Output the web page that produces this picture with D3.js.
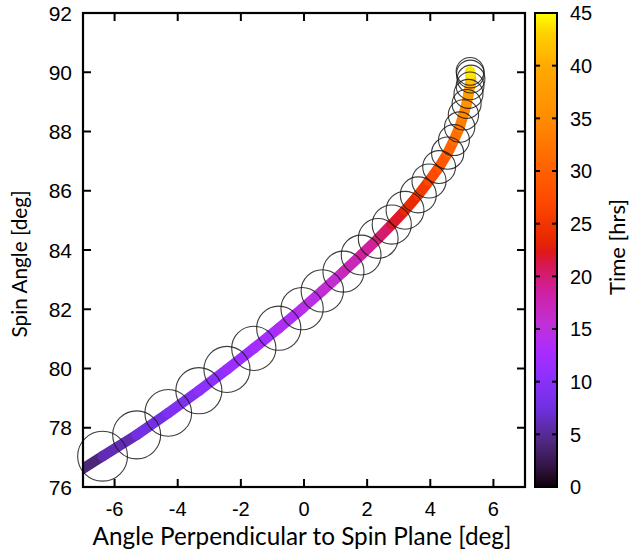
<!DOCTYPE html>
<html>
<head>
<meta charset="utf-8">
<script src="https://cdn.jsdelivr.net/npm/d3@7"></script>
<style>
  html, body { margin: 0; padding: 0; background: #fff; }
  svg { display: block; }
</style>
</head>
<body>
<svg id="chart" width="630" height="557"></svg>
<script>
// ---------------- data ----------------
const xTicks = [-6, -4, -2, 0, 2, 4, 6];
const yTicks = [76, 78, 80, 82, 84, 86, 88, 90, 92];
const cbTicks = [0, 5, 10, 15, 20, 25, 30, 35, 40, 45];

// coloured track (angle perpendicular, spin angle, time in hrs)
const trackX = [-7.00, -6.38, -5.30, -4.30, -3.33, -2.44, -1.59, -0.80, -0.06, 0.58, 1.25, 1.81, 2.35, 2.78, 3.20, 3.62, 3.96, 4.28, 4.55, 4.75, 4.93, 5.05, 5.15, 5.21, 5.26, 5.29, 5.27, 5.26];
const trackY = [76.62, 77.04, 77.76, 78.50, 79.25, 79.97, 80.68, 81.36, 82.02, 82.62, 83.27, 83.83, 84.39, 84.86, 85.34, 85.86, 86.33, 86.80, 87.27, 87.71, 88.15, 88.56, 88.93, 89.27, 89.54, 89.77, 89.94, 90.03];
const trackT = [3.0, 5.0, 7.0, 8.5, 9.8, 11.0, 12.0, 13.0, 14.0, 15.0, 16.5, 18.0, 19.5, 21.0, 23.0, 24.5, 26.0, 28.0, 29.5, 31.0, 32.5, 34.0, 35.5, 37.0, 39.0, 41.0, 43.0, 45.0];

// uncertainty circles (centre + radius in deg)
const circleX = [-6.38, -5.30, -4.30, -3.33, -2.44, -1.59, -0.80, -0.06, 0.58, 1.25, 1.81, 2.35, 2.78, 3.20, 3.62, 3.96, 4.28, 4.55, 4.75, 4.93, 5.05, 5.15, 5.21, 5.26, 5.29, 5.27, 5.26];
const circleY = [77.04, 77.76, 78.50, 79.25, 79.97, 80.68, 81.36, 82.02, 82.62, 83.27, 83.83, 84.39, 84.86, 85.34, 85.86, 86.33, 86.80, 87.27, 87.71, 88.15, 88.56, 88.93, 89.27, 89.54, 89.77, 89.94, 90.03];
const circleR = [0.79, 0.76, 0.74, 0.73, 0.73, 0.70, 0.70, 0.67, 0.67, 0.65, 0.63, 0.63, 0.62, 0.60, 0.57, 0.54, 0.52, 0.51, 0.49, 0.48, 0.48, 0.46, 0.46, 0.44, 0.44, 0.44, 0.44];

// colour palette (time -> colour)
const paletteT = [0, 1.8, 4.3, 7.5, 10.6, 12.8, 15.4, 18.6, 21.3, 22.3, 23.5, 27, 30, 35, 40, 43, 45];
const paletteC = ["#100008", "#301440", "#502880", "#7030e0", "#9030ff", "#a82cff", "#c030d8", "#d020a0", "#d8184a", "#e01818", "#e82800", "#ff4800", "#ff6000", "#ff8c00", "#ffaa00", "#ffd000", "#ffff00"];

// ---------------- layout ----------------
const svg = d3.select("#chart");
const L = 83, T = 13, W = 442, H = 474;
const x = d3.scaleLinear().domain([-7, 7]).range([L, L + W]);
const y = d3.scaleLinear().domain([76, 92]).range([T + H, T]);
const color = d3.scaleLinear().domain(paletteT).range(paletteC).interpolate(d3.interpolateRgb).clamp(true);

const tickFont = "'Liberation Sans', Arial, Helvetica, sans-serif";
const titleFont = "Lato, 'Open Sans', sans-serif";

svg.append("defs").append("clipPath").attr("id", "plotClip")
  .append("rect").attr("x", L).attr("y", T).attr("width", W).attr("height", H);

// ---------------- track ----------------
const trackG = svg.append("g").attr("clip-path", "url(#plotClip)");
const segs = d3.range(trackX.length - 1).map(i => ({
  x1: trackX[i], y1: trackY[i], x2: trackX[i + 1], y2: trackY[i + 1], t: (trackT[i] + trackT[i + 1]) / 2
}));
trackG.selectAll("line.seg").data(segs).join("line")
  .attr("class", "seg")
  .attr("x1", d => x(d.x1)).attr("y1", d => y(d.y1))
  .attr("x2", d => x(d.x2)).attr("y2", d => y(d.y2))
  .attr("stroke", d => color(d.t))
  .attr("stroke-width", 10.5)
  .attr("stroke-linecap", "round");

// ---------------- circles ----------------
const pxPerDeg = x(1) - x(0);
svg.append("g").selectAll("circle").data(circleX.map((cx, i) => ({ cx, cy: circleY[i], r: circleR[i] })))
  .join("circle")
  .attr("cx", d => x(d.cx)).attr("cy", d => y(d.cy))
  .attr("r", d => d.r * pxPerDeg)
  .attr("fill", "none")
  .attr("stroke", "#1a1a1a")
  .attr("stroke-opacity", 0.85)
  .attr("stroke-width", 1.1);

// ---------------- axes ----------------
const tickLen = 8;
const axG = svg.append("g");
axG.append("rect").attr("x", L).attr("y", T).attr("width", W).attr("height", H)
  .attr("fill", "none").attr("stroke", "#000").attr("stroke-width", 2.2);

axG.selectAll("line.xb").data(xTicks).join("line").attr("class", "xb")
  .attr("x1", d => x(d)).attr("x2", d => x(d))
  .attr("y1", T + H).attr("y2", T + H - tickLen)
  .attr("stroke", "#000").attr("stroke-width", 2);
axG.selectAll("line.xt").data(xTicks).join("line").attr("class", "xt")
  .attr("x1", d => x(d)).attr("x2", d => x(d))
  .attr("y1", T).attr("y2", T + tickLen)
  .attr("stroke", "#000").attr("stroke-width", 2);
axG.selectAll("line.yl").data(yTicks).join("line").attr("class", "yl")
  .attr("x1", L).attr("x2", L + tickLen)
  .attr("y1", d => y(d)).attr("y2", d => y(d))
  .attr("stroke", "#000").attr("stroke-width", 2);
axG.selectAll("line.yr").data(yTicks).join("line").attr("class", "yr")
  .attr("x1", L + W).attr("x2", L + W - tickLen)
  .attr("y1", d => y(d)).attr("y2", d => y(d))
  .attr("stroke", "#000").attr("stroke-width", 2);

axG.selectAll("text.xl").data(xTicks).join("text").attr("class", "xl")
  .attr("x", d => x(d)).attr("y", 516)
  .attr("text-anchor", "middle")
  .attr("font-family", tickFont).attr("font-size", 20).attr("fill", "#000")
  .text(d => d);
axG.selectAll("text.yl").data(yTicks).join("text").attr("class", "yl")
  .attr("x", 72).attr("y", d => y(d))
  .attr("dy", "0.36em")
  .attr("text-anchor", "end")
  .attr("font-family", tickFont).attr("font-size", 21).attr("fill", "#000")
  .text(d => d);

// axis titles
svg.append("text")
  .attr("x", 302).attr("y", 545)
  .attr("text-anchor", "middle")
  .attr("font-family", titleFont).attr("font-size", 24.3).attr("fill", "#000")
  .text("Angle Perpendicular to Spin Plane [deg]");
svg.append("text")
  .attr("transform", "translate(27,264) rotate(-90)")
  .attr("text-anchor", "middle")
  .attr("font-family", titleFont).attr("font-size", 20.8).attr("fill", "#000")
  .text("Spin Angle [deg]");

// ---------------- colour bar ----------------
const cbL = 535, cbW = 22;
const cbY = d3.scaleLinear().domain([0, 45]).range([T + H, T]);
const grad = svg.select("defs").append("linearGradient").attr("id", "cbGrad")
  .attr("x1", 0).attr("y1", 1).attr("x2", 0).attr("y2", 0);
grad.selectAll("stop").data(paletteT.map((t, i) => ({ t, c: paletteC[i] }))).join("stop")
  .attr("offset", d => d.t / 45).attr("stop-color", d => d.c);
svg.append("rect").attr("x", cbL).attr("y", T).attr("width", cbW).attr("height", H)
  .attr("fill", "url(#cbGrad)").attr("stroke", "#000").attr("stroke-width", 2);
const cbInner = cbTicks.filter(t => t > 0 && t < 45);
svg.selectAll("line.cbl").data(cbInner).join("line").attr("class", "cbl")
  .attr("x1", cbL).attr("x2", cbL + 5).attr("y1", d => cbY(d)).attr("y2", d => cbY(d))
  .attr("stroke", "#000").attr("stroke-width", 2);
svg.selectAll("line.cbr").data(cbInner).join("line").attr("class", "cbr")
  .attr("x1", cbL + cbW).attr("x2", cbL + cbW - 5).attr("y1", d => cbY(d)).attr("y2", d => cbY(d))
  .attr("stroke", "#000").attr("stroke-width", 2);
svg.selectAll("text.cbt").data(cbTicks).join("text").attr("class", "cbt")
  .attr("x", 570).attr("y", d => cbY(d)).attr("dy", "0.36em")
  .attr("font-family", tickFont).attr("font-size", 20).attr("fill", "#000")
  .text(d => d);
svg.append("text")
  .attr("transform", "translate(625,247) rotate(-90)")
  .attr("text-anchor", "middle")
  .attr("font-family", titleFont).attr("font-size", 22).attr("fill", "#000")
  .text("Time [hrs]");
</script>
</body>
</html>
